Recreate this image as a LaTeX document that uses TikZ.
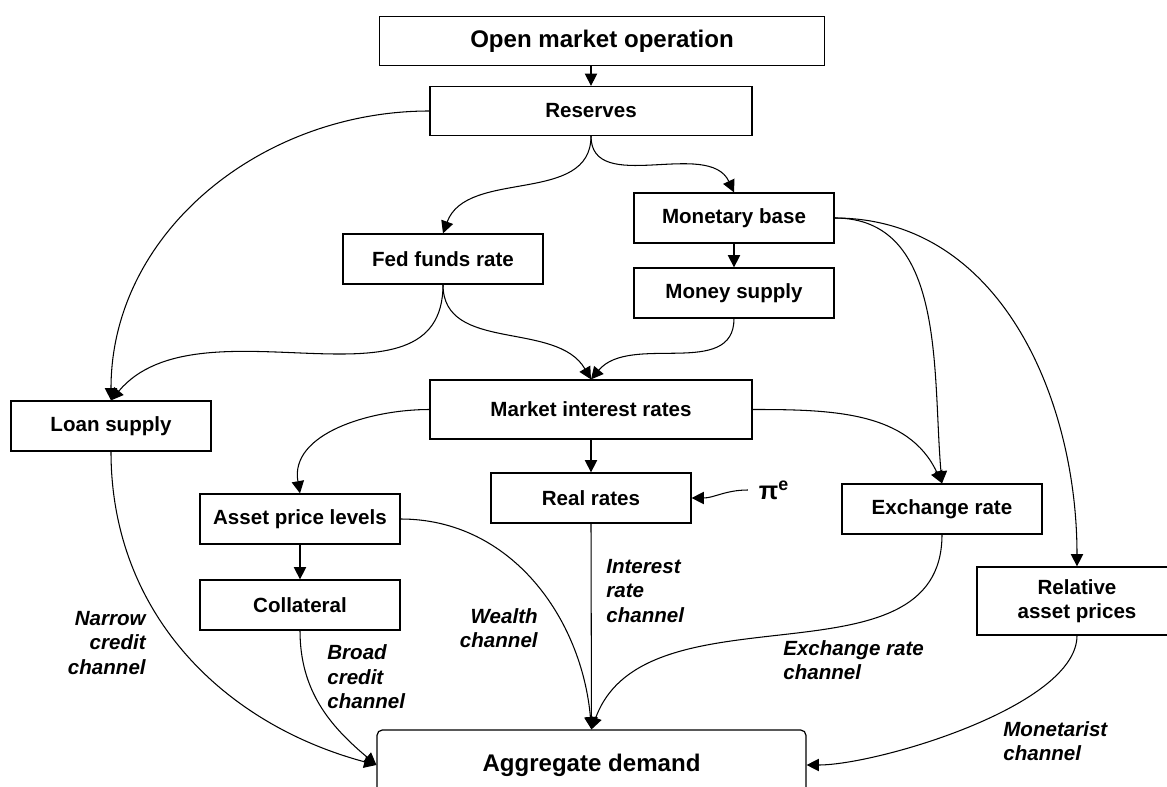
\documentclass[tikz,border=0pt]{standalone}
\usepackage{fontspec}
\setmainfont{Liberation Sans}
\usepackage{tikz}
\usetikzlibrary{arrows.meta, positioning, calc}

\begin{document}
\begin{tikzpicture}[x=0.02cm, y=-0.02cm,
    box/.style={draw, line width=0.7pt, minimum width=4cm, minimum height=1cm, inner sep=0pt,
      font=\bfseries\fontsize{11.7}{14}\selectfont},
    bigbox/.style={box, font=\bfseries\fontsize{13.7}{16}\selectfont},
    chan/.style={inner sep=0pt, font=\bfseries\itshape\fontsize{11.7}{14}\selectfont},
    link/.style={line width=0.6pt, -{Triangle[length=7pt,width=7pt]}}]
  \useasboundingbox (0,0) rectangle (1167,787);
  \clip (0,0) rectangle (1167,787);

  % boxes
  \node[bigbox, minimum width=8.9cm, minimum height=0.98cm] (open) at (602,41) {Open market operation};
  \node[box, minimum width=6.44cm, minimum height=0.98cm] (res) at (591,111) {Reserves};
  \node[box] (fed) at (443,259) {Fed funds rate};
  \node[box] (base) at (734,218) {Monetary base};
  \node[box] (money) at (734,293) {Money supply};
  \node[box, minimum width=6.44cm, minimum height=1.18cm] (market) at (591,409.5) {Market interest rates};
  \node[box] (loan) at (111,426) {Loan supply};
  \node[box] (asset) at (300,519) {Asset price levels};
  \node[box] (coll) at (300,605) {Collateral};
  \node[box] (real) at (591,498) {Real rates};
  \node[box] (exch) at (942,509) {Exchange rate};
  \node[box, minimum height=1.36cm, align=center] (rel) at (1077,601) {Relative\\asset prices};
  \node[bigbox, minimum width=8.58cm, minimum height=1.4cm, rounded corners=3pt] (agg) at (591.5,765) {Aggregate demand};
  \node[inner sep=6pt, font=\bfseries\fontsize{14.5}{16}\selectfont] (pie) at (774,490) {π\textsuperscript{e}};

  % channel labels
  \node[chan, anchor=east, align=right] (narrow) at (146,643) {Narrow\\credit\\channel};
  \node[chan, anchor=west, align=left] (broad) at (327,677) {Broad\\credit\\channel};
  \node[chan, anchor=east, align=right] (wealth) at (538,628) {Wealth\\channel};
  \node[chan, anchor=west, align=left] (interest) at (606,591) {Interest\\rate\\channel};
  \node[chan, anchor=west, align=left] (exchch) at (783,660) {Exchange rate\\channel};
  \node[chan, anchor=west, align=left] (monet) at (1003,741) {Monetarist\\channel};

  % arrows
  \draw[link] (open.south -| res.north) -- (res.north);
  \draw[link] (res.west) to[out=180,in=90] (loan.north);
  \draw[link] (res.south) to[out=-90,in=70] (fed.north);
  \draw[link] (res.south) to[out=-90,in=115] (base.north);
  \draw[link] (base.south) -- (money.north);
  \draw[link] (fed.south) to[out=-90,in=50] (loan.north);
  \draw[link] (fed.south) to[out=-90,in=120] (market.north);
  \draw[link] (money.south) to[out=-90,in=50] (market.north);
  \draw[link] (market.west) to[out=180,in=100] (asset.north);
  \draw[link] (market.south) -- (real.north);
  \draw[link] (market.east) to[out=0,in=115] (exch.north);
  \draw[link] (base.east) to[out=0,in=95] (exch.north);
  \draw[link] (base.east) to[out=0,in=90] (rel.north);
  \draw[link] (asset.south) -- (coll.north);
  \draw[link] (pie.west) to[out=180,in=0] (real.east);
  \draw[link] (loan.south) to[out=-90,in=165] (agg.west);
  \draw[link] (coll.south) to[out=-90,in=140] (agg.west);
  \draw[link] (asset.east) to[out=0,in=95] (agg.north);
  \draw[link] (real.south) -- (agg.north);
  \draw[link] (exch.south) to[out=-90,in=70] (agg.north);
  \draw[link] (rel.south) to[out=-90,in=0,looseness=0.6] (agg.east);
\end{tikzpicture}
\end{document}
